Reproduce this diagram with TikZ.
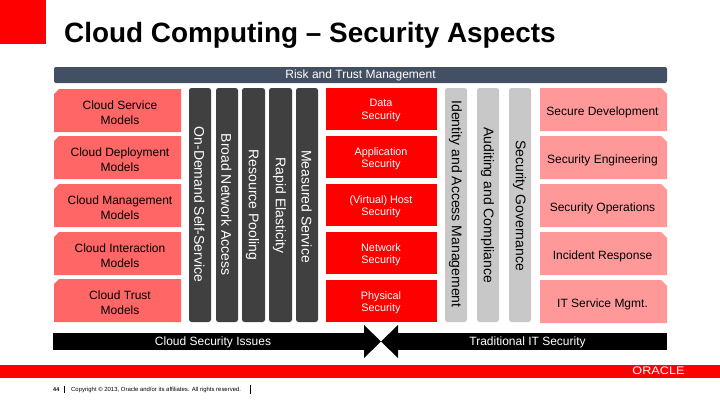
\documentclass[tikz,border=0pt]{standalone}
\usepackage{fontspec}
\setmainfont{Liberation Sans}
\definecolor{bandred}{HTML}{FF0000}
\definecolor{riskblue}{HTML}{434F63}
\definecolor{leftred}{HTML}{FF6666}
\definecolor{rightpink}{HTML}{FF9999}
\definecolor{darkbar}{HTML}{404040}
\definecolor{graybar}{HTML}{C8C8C8}
\tikzset{
  x=1pt,y=-1pt,
  lab/.style={font=\fontsize{12}{14.5}\selectfont,align=center,inner sep=0pt},
  redlab/.style={font=\fontsize{10.8}{12.2}\selectfont,align=center,inner sep=0pt,text=white},
  vlab/.style={font=\fontsize{14}{16}\selectfont,inner sep=0pt,rotate=-90},
  darkv/.style={fill=darkbar,rounded corners=2.5pt},
  grayv/.style={fill=graybar,rounded corners=2.5pt},
  redbox/.style={fill=bandred},
  blacklab/.style={font=\fontsize{12}{14}\selectfont,text=white,inner sep=0pt},
}
\begin{document}
\begin{tikzpicture}
\useasboundingbox (0,0) rectangle (720,405);
\fill[white] (0,0) rectangle (720,405);
\fill[bandred] (0,0) rectangle (46,44);
\node[anchor=base west,inner sep=0pt,font=\bfseries\fontsize{27.9}{32}\selectfont] (title) at (64,42.5) {Cloud Computing – Security Aspects};
% risk bar
\fill[riskblue,rounded corners=2pt] (54,67) rectangle (667,83);
\node[blacklab] (risk) at (360.5,75.5) {Risk and Trust Management};
% left boxes
\foreach \y/\n/\t in {89/a/{Cloud Service\\Models},136/b/{Cloud Deployment\\Models},184/c/{Cloud Management\\Models},232/d/{Cloud Interaction\\Models},279/e/{Cloud Trust\\Models}}{
  \fill[leftred] (59,\y) -- (181,\y) -- (181,\y+43) -- (54,\y+43) -- (54,\y+5) -- cycle;
  \node[lab] (left\n) at (120,\y+23.5) {\t};
}
% dark bars
\foreach \x/\w in {189/22,216/22,242/23,269/23,296/22}{
  \fill[darkv] (\x,88) rectangle (\x+\w,322);
}
\node[vlab,text=white] (da) at (199.5,204.5) {On-Demand Self-Service};
\node[vlab,text=white] (db) at (226.5,204.5) {Broad Network Access};
\node[vlab,text=white] (dc) at (252.5,205) {Resource Pooling};
\node[vlab,text=white] (dd) at (279.5,205.5) {Rapid Elasticity};
\node[vlab,text=white] (de) at (306.5,206.5) {Measured Service};
% red boxes
\foreach \y/\n/\t in {88/a/{Data\\Security},136/b/{Application\\Security},184/c/{(Virtual) Host\\Security},232/d/{Network\\Security},280/e/{Physical\\Security}}{
  \fill[redbox] (326,\y) rectangle (437,\y+42);
  \node[redlab] (red\n) at (381,\y+22.5) {\t};
}
% gray bars
\foreach \x in {445,477,509}{
  \fill[grayv] (\x,88) rectangle (\x+22,322);
}
\node[vlab] (ga) at (455.5,204) {Identity and Access Management};
\node[vlab] (gb) at (487.5,205) {Auditing and Compliance};
\node[vlab] (gc) at (519.5,205.5) {Security Governance};
% right boxes
\foreach \y/\n/\t in {88/a/Secure Development,136/b/Security Engineering,184/c/Security Operations,232/d/Incident Response,280/e/IT Service Mgmt.}{
  \fill[rightpink] (540,\y) -- (661,\y) -- (667,\y+6) -- (667,\y+43) -- (540,\y+43) -- cycle;
  \node[lab] (right\n) at (602.5,\y+24) {\t};
}
% black bars and bowtie
\fill[black] (53,333) rectangle (364,350);
\fill[black] (398,333) rectangle (667,350);
\fill[black] (364,325) -- (381,341.5) -- (364,358) -- cycle;
\fill[black] (398,325) -- (381,341.5) -- (398,358) -- cycle;
\node[blacklab] (issues) at (213,342) {Cloud Security Issues};
\node[blacklab] (trad) at (527.5,342) {Traditional IT Security};
% footer band
\fill[bandred] (0,365) rectangle (720,378);
\node[inner sep=0pt,text=white,font=\fontsize{11}{12}\selectfont,xscale=1.15] (oracle) at (658.5,371) {ORACLE};
\node[anchor=base west,inner sep=0pt,font=\bfseries\fontsize{5.5}{6}\selectfont] (page) at (53,391) {44};
\draw[black,line width=0.6pt] (64,385.5) -- (64,393);
\node[anchor=base west,inner sep=0pt,font=\fontsize{5.95}{7}\selectfont] (copy) at (71,391) {Copyright © 2013, Oracle and/or its affiliates. All rights reserved.};
\draw[black,line width=0.6pt] (250,385) -- (250,394);
\end{tikzpicture}
\end{document}
